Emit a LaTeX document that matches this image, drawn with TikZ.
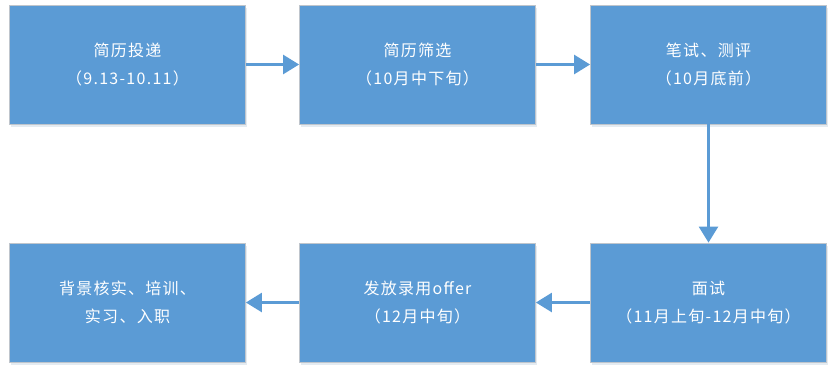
\documentclass[tikz,border=0pt]{standalone}
\usepackage{fontspec}
\newfontfamily\cjk[LetterSpace=8]{Noto Sans CJK SC}
\usetikzlibrary{arrows.meta,shadows}
\definecolor{boxfill}{HTML}{5B9BD5}
\definecolor{boxline}{HTML}{BFC5CC}
\definecolor{arrowc}{HTML}{5B9BD5}
\tikzset{
  stepbox/.style={draw=boxline, line width=0.8pt, fill=boxfill, minimum width=236pt, minimum height=119pt,
    text=white, align=center, font=\cjk\fontsize{16pt}{28pt}\selectfont, inner sep=0pt,
    drop shadow={opacity=0.18, shadow xshift=1.5pt, shadow yshift=-3pt, fill=boxfill!60!gray}},
  flow/.style={draw=arrowc, line width=2.6pt, -{Triangle[length=16pt,width=19pt]}}
}
\begin{document}
\begin{tikzpicture}[x=1pt,y=-1pt]
\useasboundingbox (0,0) rectangle (838,378);
\node[stepbox] (a) at (127.5,64.5) {简历投递\\（9.13-10.11）};
\node[stepbox] (b) at (417.5,64.5) {简历筛选\\（10月中下旬）};
\node[stepbox] (c) at (708.5,64.5) {笔试、测评\\（10月底前）};
\node[stepbox] (f) at (708.5,302.5) {面试\\（11月上旬-12月中旬）};
\node[stepbox] (e) at (417.5,302.5) {发放录用offer\\（12月中旬）};
\node[stepbox] (d) at (127.5,302.5) {背景核实、培训、\\实习、入职};
\draw[flow] (a) -- (b);
\draw[flow] (b) -- (c);
\draw[flow] (c) -- (f);
\draw[flow] (f) -- (e);
\draw[flow] (e) -- (d);
\end{tikzpicture}
\end{document}
